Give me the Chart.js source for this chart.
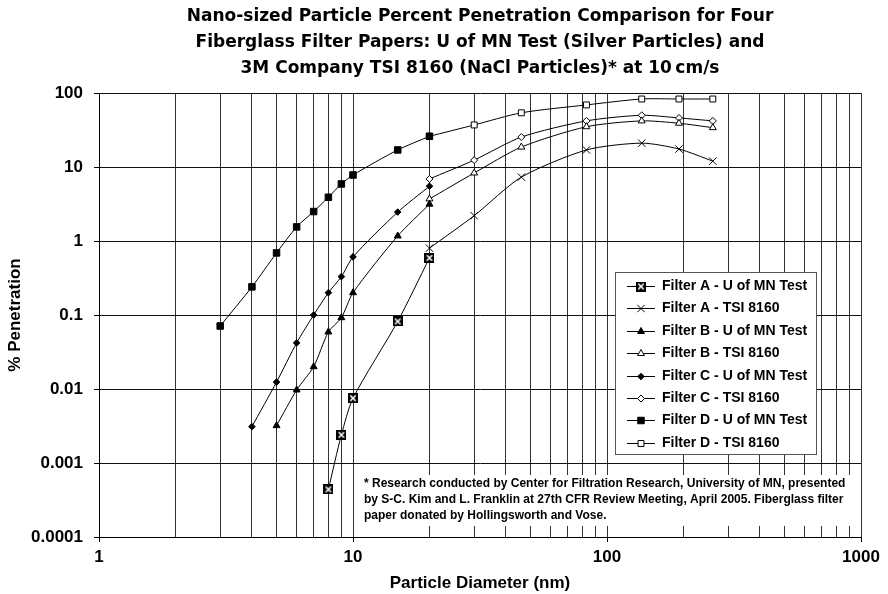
<!DOCTYPE html>
<html>
<head>
<meta charset="utf-8">
<title>Nano-sized Particle Percent Penetration</title>
<script src="https://cdn.jsdelivr.net/npm/chart.js@4/dist/chart.umd.min.js"></script>
<style>
  html, body { margin: 0; padding: 0; background: #fff; }
  #wrap { width: 888px; height: 594px; }
</style>
</head>
<body>
<div id="wrap"><canvas id="penetrationChart" width="888" height="594"></canvas></div>
<script>
'use strict';

// Particle diameters (nm)
var umnDiamA = [8, 9, 10, 15, 20];
var umnDiamB = [5, 6, 7, 8, 9, 10, 15, 20];
var umnDiamC = [4, 5, 6, 7, 8, 9, 10, 15, 20];
var umnDiamD = [3, 4, 5, 6, 7, 8, 9, 10, 15, 20];
var tsiDiam = [20, 30, 46, 83, 137, 192, 261];

// % penetration
var filterAUmn = [0.00044, 0.0024, 0.0075, 0.082, 0.59];
var filterATsi = [0.8, 2.2, 7.3, 17, 21, 17.5, 12];
var filterBUmn = [0.0032, 0.0097, 0.02, 0.059, 0.092, 0.2, 1.17, 3.15];
var filterBTsi = [3.7, 8.3, 18.6, 35, 42, 39, 34];
var filterCUmn = [0.0031, 0.0124, 0.042, 0.1, 0.2, 0.33, 0.61, 2.46, 5.5];
var filterCTsi = [6.9, 12.4, 25.4, 42, 50, 46, 42];
var filterDUmn = [0.071, 0.24, 0.69, 1.55, 2.5, 3.9, 5.9, 7.8, 17, 26];
var filterDTsi = [26, 37, 54, 69, 83, 83, 83];

// Axis ticks
var xTickValues = [1, 10, 100, 1000];
var xTickLabels = ['1', '10', '100', '1000'];
var xGridSteps = [1, 2, 3, 4, 5, 6, 7, 8, 9];
var yTickValues = [0.0001, 0.001, 0.01, 0.1, 1, 10, 100];
var yTickLabels = ['0.0001', '0.001', '0.01', '0.1', '1', '10', '100'];

var footnoteLines = [
  '* Research conducted by Center for Filtration Research, University of MN, presented',
  'by S-C. Kim and L. Franklin at 27th CFR Review Meeting, April 2005. Fiberglass filter',
  'paper donated by Hollingsworth and Vose.'
];

var FONT = 'Liberation Sans, Arial, sans-serif';

function pts(xs, ys) {
  return xs.map(function (x, i) { return { x: x, y: ys[i] }; });
}

// black square with a white cross, used as the "Filter A - U of MN" marker
function makeBoxedCross() {
  var c = document.createElement('canvas');
  c.width = 10;
  c.height = 10;
  var g = c.getContext('2d');
  g.fillStyle = '#000';
  g.fillRect(0, 0, 10, 10);
  g.strokeStyle = '#fff';
  g.lineWidth = 1.6;
  g.beginPath();
  g.moveTo(2.3, 2.3); g.lineTo(7.7, 7.7);
  g.moveTo(7.7, 2.3); g.lineTo(2.3, 7.7);
  g.stroke();
  return c;
}

// all vertical grid positions 1..9 in each decade
var xGridValues = [];
[1, 10, 100].forEach(function (d) {
  xGridSteps.forEach(function (s) { xGridValues.push(s * d); });
});
xGridValues.push(1000);

function series(label, xs, ys, style, radius, fill) {
  return {
    label: label,
    data: pts(xs, ys),
    borderColor: '#000',
    borderWidth: 1,
    tension: 0.25,
    pointStyle: style,
    pointRadius: radius,
    pointHoverRadius: radius,
    pointBackgroundColor: fill,
    pointBorderColor: '#000',
    pointBorderWidth: 1
  };
}

var datasets = [
  series('Filter A - U of MN Test', umnDiamA, filterAUmn, makeBoxedCross(), 5, '#000'),
  series('Filter A - TSI 8160', tsiDiam, filterATsi, 'crossRot', 5.2, '#000'),
  series('Filter B - U of MN Test', umnDiamB, filterBUmn, 'triangle', 4, '#000'),
  series('Filter B - TSI 8160', tsiDiam, filterBTsi, 'triangle', 4, '#fff'),
  series('Filter C - U of MN Test', umnDiamC, filterCUmn, 'rectRot', 3.3, '#000'),
  series('Filter C - TSI 8160', tsiDiam, filterCTsi, 'rectRot', 3.5, '#fff'),
  series('Filter D - U of MN Test', umnDiamD, filterDUmn, 'rect', 4.6, '#000'),
  series('Filter D - TSI 8160', tsiDiam, filterDTsi, 'rect', 4.2, '#fff')
];

// footnote box (under the lines) and legend box (on top), inside the plot area
var boxesPlugin = {
  id: 'boxes',
  beforeDatasetsDraw: function (chart) {
    var ctx = chart.ctx;
    var area = chart.chartArea;
    ctx.save();
    ctx.fillStyle = '#fff';
    ctx.fillRect(362, 475, area.right - 1 - 362, 51);
    ctx.fillStyle = '#000';
    ctx.font = 'bold 12px ' + FONT;
    ctx.textBaseline = 'middle';
    ctx.textAlign = 'left';
    footnoteLines.forEach(function (line, i) {
      ctx.fillText(line, 364, 484 + i * 16);
    });
    ctx.restore();
  },
  afterDatasetsDraw: function (chart) {
    var ctx = chart.ctx;
    var left = 615, top = 272, w = 201, h = 182;
    ctx.save();
    ctx.fillStyle = '#fff';
    ctx.fillRect(left, top, w, h);
    ctx.strokeStyle = '#555';
    ctx.lineWidth = 1;
    ctx.strokeRect(left + 0.5, top + 0.5, w, h);
    ctx.font = 'bold 14px ' + FONT;
    ctx.textBaseline = 'middle';
    ctx.textAlign = 'left';
    chart.data.datasets.forEach(function (ds, i) {
      var y = Math.round(top + 14 + i * 22.4) + 0.5;
      ctx.strokeStyle = '#000';
      ctx.lineWidth = 1;
      ctx.beginPath();
      ctx.moveTo(627, y);
      ctx.lineTo(655, y);
      ctx.stroke();
      ctx.fillStyle = ds.pointBackgroundColor;
      ctx.strokeStyle = ds.pointBorderColor;
      ctx.lineWidth = ds.pointBorderWidth;
      Chart.helpers.drawPoint(ctx, {
        pointStyle: ds.pointStyle,
        rotation: 0,
        radius: ds.pointRadius,
        borderWidth: ds.pointBorderWidth
      }, 641, y);
      ctx.fillStyle = '#000';
      ctx.fillText(ds.label, 662, y);
    });
    ctx.restore();
  }
};

var tickFont = { family: FONT, size: 17, weight: 'bold' };

new Chart(document.getElementById('penetrationChart').getContext('2d'), {
  type: 'line',
  data: { datasets: datasets },
  plugins: [boxesPlugin],
  options: {
    responsive: false,
    animation: false,
    devicePixelRatio: 1,
    layout: { padding: { left: 0, right: 27, top: 0, bottom: 0 } },
    plugins: {
      legend: { display: false },
      tooltip: { enabled: false },
      title: {
        display: true,
        fullSize: false,
        text: [
          'Nano-sized Particle Percent Penetration Comparison for Four',
          'Fiberglass Filter Papers: U of MN Test (Silver Particles) and',
          '3M Company TSI 8160 (NaCl Particles)* at 10\u2009cm/s'
        ],
        color: '#000',
        font: { family: 'DejaVu Sans, sans-serif', size: 17, weight: 'bold', lineHeight: '26px' },
        padding: { top: 4, bottom: 11 }
      }
    },
    scales: {
      x: {
        type: 'logarithmic',
        min: 1,
        max: 1000,
        afterBuildTicks: function (scale) {
          scale.ticks = xGridValues.map(function (v) { return { value: v }; });
        },
        afterFit: function (scale) { scale.height = 57; },
        grid: {
          color: '#333',
          lineWidth: 1,
          tickLength: 5,
          tickColor: function (c) {
            return c.tick && xTickValues.indexOf(c.tick.value) >= 0 ? '#000' : 'rgba(0,0,0,0)';
          }
        },
        border: { color: '#000', width: 1 },
        ticks: {
          autoSkip: false,
          maxRotation: 0,
          padding: 5,
          color: '#000',
          font: tickFont,
          callback: function (value) {
            var i = xTickValues.indexOf(value);
            return i >= 0 ? xTickLabels[i] : '';
          }
        },
        title: {
          display: true,
          text: 'Particle Diameter (nm)',
          color: '#000',
          font: tickFont,
          padding: { top: 0, bottom: 0 }
        }
      },
      y: {
        type: 'logarithmic',
        min: 0.0001,
        max: 100,
        afterBuildTicks: function (scale) {
          scale.ticks = yTickValues.map(function (v) { return { value: v }; });
        },
        afterFit: function (scale) { scale.width = 99; },
        grid: { color: '#111', lineWidth: 1, tickLength: 5, tickColor: '#000' },
        border: { color: '#000', width: 1 },
        ticks: {
          autoSkip: false,
          padding: 11,
          color: '#000',
          font: tickFont,
          callback: function (value, index) { return yTickLabels[index]; }
        },
        title: {
          display: true,
          text: '% Penetration',
          color: '#000',
          font: tickFont,
          padding: { top: 5, bottom: 0 }
        }
      }
    }
  }
});
</script>
</body>
</html>
